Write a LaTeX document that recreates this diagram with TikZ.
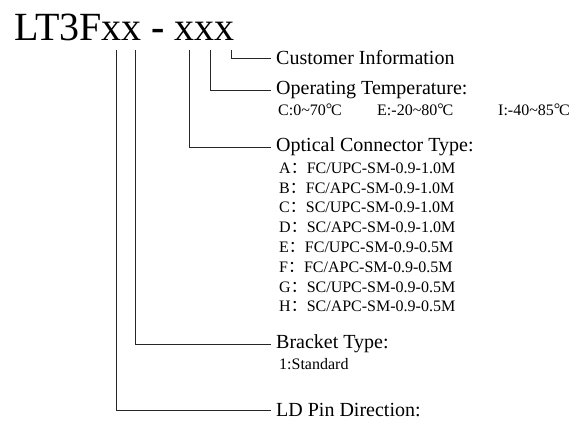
\documentclass[tikz,border=0pt]{standalone}
\usepackage{fontspec}
\setmainfont{Liberation Serif}
\newfontfamily\cjk{Noto Sans CJK SC}
\newcommand{\degC}{\raisebox{0.05em}{°}\kern-0.08em C}
\begin{document}
\begin{tikzpicture}[x=1pt,y=1pt,
  lab/.style={anchor=west, inner xsep=5pt, inner ysep=1pt, font=\fontsize{20}{24}\selectfont},
  sub/.style={anchor=west, inner sep=0pt, font=\fontsize{16}{19}\selectfont},
  conn/.style={line width=0.9pt, draw=black!85}]
\useasboundingbox (0,0) rectangle (572,-421);
\node[anchor=base west, inner sep=0pt, font=\fontsize{40}{44}\selectfont] (title) at (14,-40) {LT3Fxx {\bfseries -} xxx};
\coordinate (c1) at (116,-50);
\coordinate (c2) at (135,-50);
\coordinate (c3) at (189,-50);
\coordinate (c4) at (210,-50);
\coordinate (c5) at (231,-50);
\node[lab] (cust) at (271,-58) {Customer Information};
\node[lab] (oper) at (271,-90) {Operating Temperature:};
\node[sub] (t1) at (278,-110) {C:0\textasciitilde70\degC};
\node[sub] (t2) at (377,-110) {E:-20\textasciitilde80\degC};
\node[sub] (t3) at (498,-110) {I:-40\textasciitilde85\degC};
\node[lab] (opt) at (271,-147) {Optical Connector Type:};
\node[sub] (oa) at (279,-168) {A{\cjk ：}FC/UPC-SM-0.9-1.0M};
\node[sub] (ob) at (279,-187.8) {B{\cjk ：}FC/APC-SM-0.9-1.0M};
\node[sub] (oc) at (279,-207.6) {C{\cjk ：}SC/UPC-SM-0.9-1.0M};
\node[sub] (od) at (279,-227.4) {D{\cjk ：}SC/APC-SM-0.9-1.0M};
\node[sub] (oe) at (279,-247.2) {E{\cjk ：}FC/UPC-SM-0.9-0.5M};
\node[sub] (of) at (279,-267) {F{\cjk ：}FC/APC-SM-0.9-0.5M};
\node[sub] (og) at (279,-286.8) {G{\cjk ：}SC/UPC-SM-0.9-0.5M};
\node[sub] (oh) at (279,-306.6) {H{\cjk ：}SC/APC-SM-0.9-0.5M};
\node[lab] (brk) at (271,-344) {Bracket Type:};
\node[sub] (std) at (279,-364) {1:Standard};
\node[lab] (ld) at (271,-410.5) {LD Pin Direction:};
\draw[conn] (c5) |- (cust.west);
\draw[conn] (c4) |- (oper.west);
\draw[conn] (c3) |- (opt.west);
\draw[conn] (c2) |- (brk.west);
\draw[conn] (c1) |- (ld.west);
\end{tikzpicture}
\end{document}
